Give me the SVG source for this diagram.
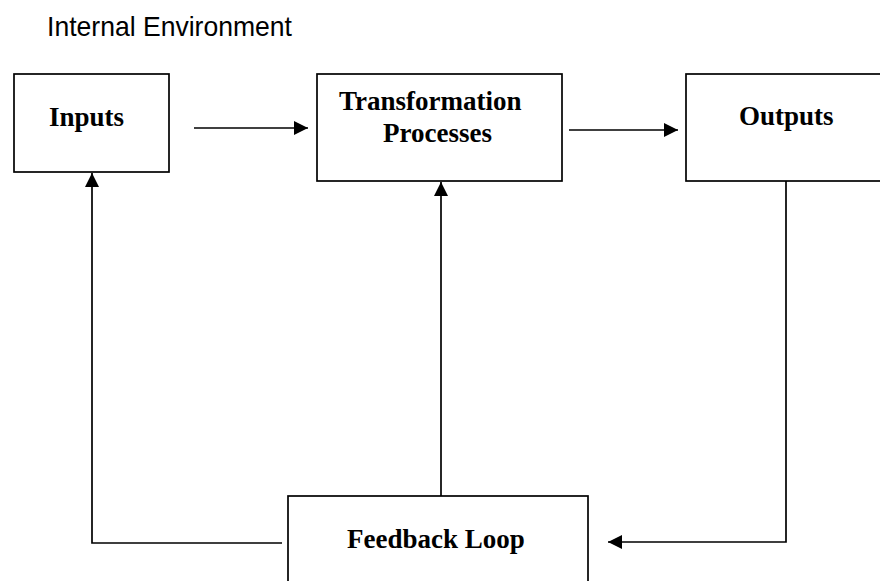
<svg xmlns="http://www.w3.org/2000/svg" width="880" height="581" viewBox="0 0 880 581">
  <style>
    .box { fill: #ffffff; stroke: #000000; stroke-width: 1.7; }
    .label { font-family: "Liberation Serif", "Times New Roman", serif; font-weight: bold; font-size: 27px; fill: #000000; }
    .title { font-family: "Liberation Sans", Arial, sans-serif; font-size: 28px; fill: #000000; }
    .wire { fill: none; stroke: #000000; stroke-width: 1.7; }
  </style>
  <defs>
    <marker id="arrow" viewBox="0 0 14 14" refX="14" refY="7" markerWidth="14" markerHeight="14" markerUnits="userSpaceOnUse" orient="auto">
      <path d="M0,0 L14,7 L0,14 Z" fill="#000000"/>
    </marker>
  </defs>
  <rect width="880" height="581" fill="#ffffff"/>

  <text class="title" x="47" y="36" textLength="245" lengthAdjust="spacingAndGlyphs">Internal Environment</text>

  <g id="inputs">
    <rect class="box" x="14" y="74" width="155" height="98"/>
    <text class="label" x="49" y="126">Inputs</text>
  </g>

  <g id="transformation">
    <rect class="box" x="317" y="74" width="245" height="107"/>
    <text class="label" x="339" y="110">Transformation</text>
    <text class="label" x="383" y="142">Processes</text>
  </g>

  <g id="outputs">
    <rect class="box" x="686" y="74" width="210" height="107"/>
    <text class="label" x="739" y="125">Outputs</text>
  </g>

  <g id="feedback">
    <rect class="box" x="288" y="496" width="300" height="100"/>
    <text class="label" x="347" y="548">Feedback Loop</text>
  </g>

  <g id="connectors">
    <line class="wire" x1="194" y1="128" x2="308" y2="128" marker-end="url(#arrow)"/>
    <line class="wire" x1="569" y1="130" x2="678" y2="130" marker-end="url(#arrow)"/>
    <polyline class="wire" points="786,181 786,542 608,542" marker-end="url(#arrow)"/>
    <polyline class="wire" points="282,543 92,543 92,173" marker-end="url(#arrow)"/>
    <line class="wire" x1="441" y1="496" x2="441" y2="182" marker-end="url(#arrow)"/>
  </g>
</svg>
